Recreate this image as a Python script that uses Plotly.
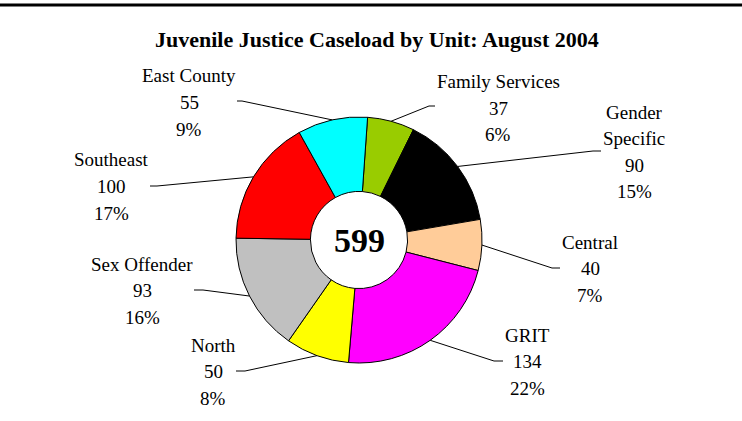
import math
import plotly.graph_objects as go

# ---- data ----
units = ["Family Services", "Gender Specific", "Central", "GRIT",
         "North", "Sex Offender", "Southeast", "East County"]
caseload = [37, 90, 40, 134, 50, 93, 100, 55]
colors = ["#99CC00", "#000000", "#FFCC99", "#FF00FF",
          "#FFFF00", "#C0C0C0", "#FF0000", "#00FFFF"]
title_text = "Juvenile Justice Caseload by Unit: August 2004"
wrapped = {"Gender Specific": ["Gender", "Specific"]}

# ---- layout geometry (pixels) ----
W, H = 742, 421
cx, cy, R = 359, 240, 123
start_angle = 4  # degrees clockwise from 12 o'clock

# label block anchor: centre x, first-line centre y
label_pos = {
    "Family Services": (498, 82),
    "Gender Specific": (634, 112),
    "Central": (590, 242),
    "GRIT": (527, 335),
    "North": (213, 345),
    "Sex Offender": (142, 264),
    "Southeast": (111, 160),
    "East County": (189, 76),
}
# leader line: label-side end, elbow
leader_pos = {
    "Family Services": ((435, 106), (429, 106)),
    "Gender Specific": ((601, 151), (593, 151)),
    "Central": ((560, 268), (552, 268)),
    "GRIT": ((503, 361), (494, 361)),
    "North": ((236, 371), (245, 371)),
    "Sex Offender": ((194, 290), (203, 290)),
    "Southeast": ((150, 186), (157, 186)),
    "East County": ((237, 101), (242, 101)),
}
LINE_H = 26.5


def px(x):
    return x / W


def py(y):
    return 1 - y / H


total = sum(caseload)

fig = go.Figure(go.Pie(
    labels=units,
    values=caseload,
    marker=dict(colors=colors, line=dict(color="black", width=1)),
    hole=0.395,
    sort=False,
    direction="clockwise",
    rotation=start_angle,
    textinfo="none",
    hoverinfo="label+value+percent",
    domain=dict(x=[px(cx - R), px(cx + R)], y=[py(cy + R), py(cy - R)]),
    showlegend=False,
))

annotations = []
shapes = []
cum = 0
font = dict(family="Liberation Serif, Times New Roman, serif", size=19, color="black")
for name, v in zip(units, caseload):
    mid = math.radians(start_angle + (cum + v / 2) / total * 360)
    cum += v
    lines = wrapped.get(name, [name]) + [str(v), f"{round(v / total * 100)}%"]
    lx, ly = label_pos[name]
    for i, t in enumerate(lines):
        annotations.append(dict(
            x=px(lx), y=py(ly + i * LINE_H), xref="paper", yref="paper",
            text=t, showarrow=False, font=font,
            xanchor="center", yanchor="middle",
        ))
    (ex, ey), (bx, by) = leader_pos[name]
    sx = cx + R * math.sin(mid)
    sy = cy - R * math.cos(mid)
    shapes.append(dict(
        type="path", xref="paper", yref="paper",
        path=f"M {px(ex)} {py(ey)} L {px(bx)} {py(by)} L {px(sx)} {py(sy)}",
        line=dict(color="black", width=1),
    ))

# centre total
annotations.append(dict(
    x=px(cx), y=py(cy), xref="paper", yref="paper",
    text=f"<b>{total}</b>", showarrow=False,
    font=dict(family="Liberation Serif, Times New Roman, serif", size=34, color="black"),
    xanchor="center", yanchor="middle",
))
# title
annotations.append(dict(
    x=px(377), y=py(40), xref="paper", yref="paper",
    text=f"<b>{title_text}</b>", showarrow=False,
    font=dict(family="Liberation Serif, Times New Roman, serif", size=22, color="black"),
    xanchor="center", yanchor="middle",
))
# top rule
shapes.append(dict(type="line", xref="paper", yref="paper",
                   x0=0, x1=1, y0=py(5), y1=py(5),
                   line=dict(color="black", width=3)))

fig.update_layout(
    width=W, height=H,
    margin=dict(l=0, r=0, t=0, b=0),
    paper_bgcolor="white", plot_bgcolor="white",
    annotations=annotations, shapes=shapes,
)
fig.write_html("out.html",
               config={"displayModeBar": False},
               post_script="document.body.style.margin='0';document.body.style.overflow='hidden';")
